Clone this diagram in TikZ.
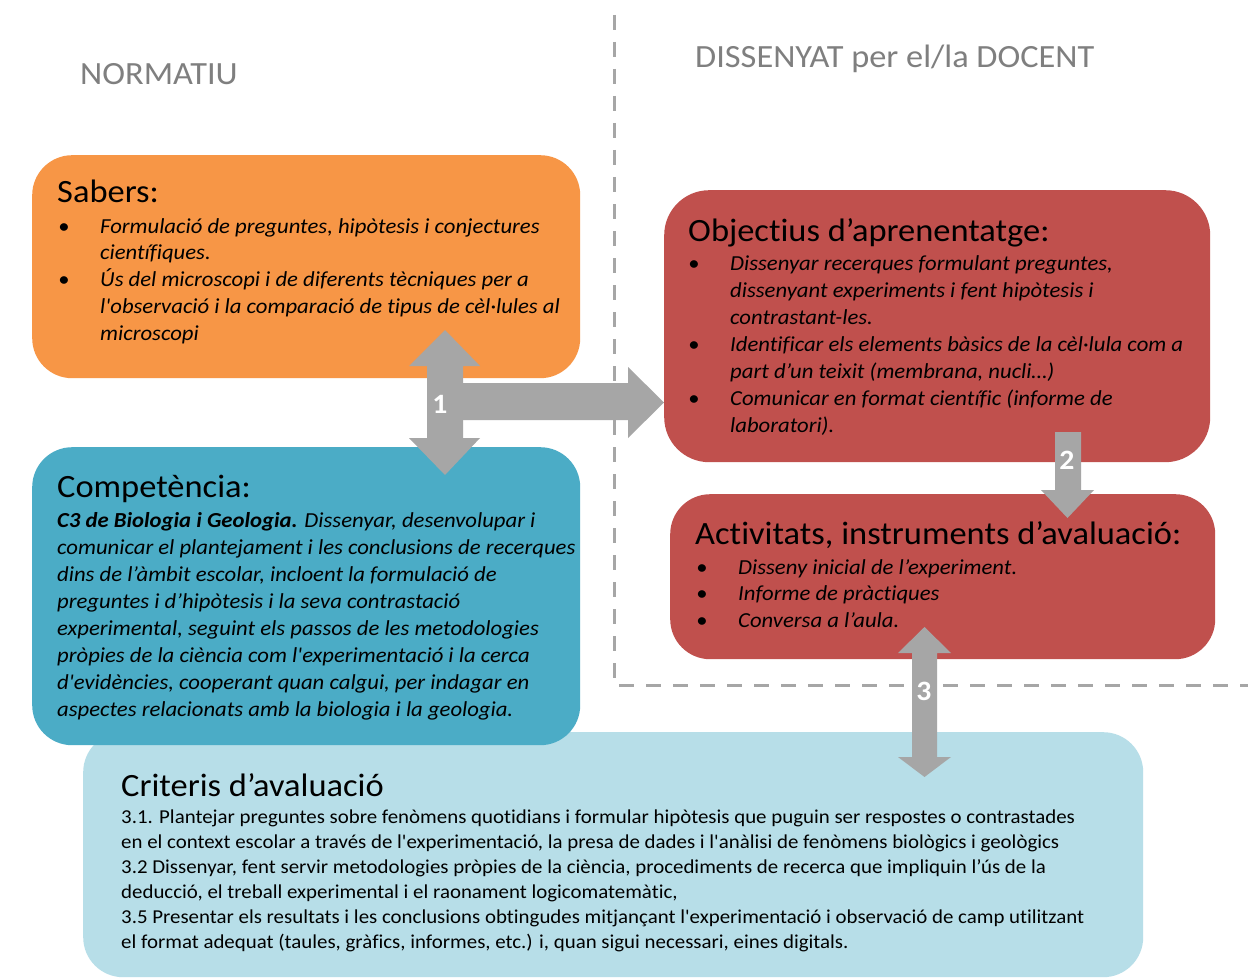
\documentclass[tikz,border=0pt]{standalone}
\usepackage{fontspec}
\setmainfont{Carlito}[FakeStretch=1.06, Ligatures={TeXOff, CommonOff}]
\definecolor{orangebox}{HTML}{F79646}
\definecolor{redbox}{HTML}{C0504D}
\definecolor{bluebox}{HTML}{4BACC6}
\definecolor{lightbox}{HTML}{B7DEE8}
\definecolor{arrowgray}{HTML}{A6A6A6}
\definecolor{headgray}{HTML}{7F7F7F}
\newcommand\bul{\makebox[42pt][l]{•}}
\newcommand\ind{\hspace*{42pt}}
\newcommand\textlines[1]{\begin{tabular}[t]{@{}l@{}}#1\end{tabular}}
\begin{document}
\begin{tikzpicture}[x=1pt,y=-1pt,
  box/.style={rectangle, rounded corners=40pt, inner sep=0pt, anchor=north west, draw=none},
  heading/.style={anchor=base west, inner sep=0pt, text=headgray, font=\fontsize{32.4}{36}\selectfont},
  title/.style={anchor=base west, inner sep=0pt, text=black, font=\fontsize{32.5}{38}\selectfont},
  body/.style={anchor=base west, inner sep=0pt, text=black, font=\fontsize{21.4}{27}\selectfont\itshape},
  crit/.style={anchor=base west, inner sep=0pt, text=black, font=\fontsize{19.7}{25}\selectfont},
  blockarrow/.style={fill=arrowgray, draw=none},
  num/.style={text=white, inner sep=0pt, font=\fontsize{28}{30}\selectfont\bfseries},
  divider/.style={draw=arrowgray, line width=3pt, dash pattern=on 15pt off 12pt}]
\useasboundingbox (0,0) rectangle (1248,979);
\fill[white] (0,0) rectangle (1248,979);

% dividers
\coordinate (dtop) at (614,15);
\coordinate (dcorner) at (614,685);
\coordinate (dright) at (1248,685);
\draw[divider] (dtop) -- (dcorner) -- (dright);

% headings
\node[heading] (norm) at (80,85) {NORMATIU};
\node[heading] (dis) at (695,68) {DISSENYAT per el/la DOCENT};

% boxes
\node[box, fill=lightbox, minimum width=1060pt, minimum height=245pt] (crit) at (83,732) {};
\node[box, fill=orangebox, minimum width=548pt, minimum height=223pt] (sab) at (32,155) {};
\node[box, fill=bluebox, minimum width=548pt, minimum height=298pt] (comp) at (32,447) {};
\node[box, fill=redbox, minimum width=546pt, minimum height=272pt, rounded corners=45pt] (obj) at (664,190) {};
\node[box, fill=redbox, minimum width=545pt, minimum height=165pt] (act) at (670,494) {};

% Sabers
\node[title] (sabT) at (57,203) {Sabers:};
\node[body] (sabB) at (58,233) {\textlines{\bul Formulació de preguntes, hipòtesis i conjectures\\
\ind científiques.\\
\bul Ús del microscopi i de diferents tècniques per a\\
\ind l'observació i la comparació de tipus de cèl·lules al\\
\ind microscopi}};

% Competencia
\node[title] (compT) at (57,497) {Competència:};
\node[body] (compB) at (57,527) {\textlines{\textbf{C3 de Biologia i Geologia.} Dissenyar, desenvolupar i\\
comunicar el plantejament i les conclusions de recerques\\
dins de l’àmbit escolar, incloent la formulació de\\
preguntes i d’hipòtesis i la seva contrastació\\
experimental, seguint els passos de les metodologies\\
pròpies de la ciència com l'experimentació i la cerca\\
d'evidències, cooperant quan calgui, per indagar en\\
aspectes relacionats amb la biologia i la geologia.}};

% Objectius
\node[title] (objT) at (688,241) {Objectius d’aprenentatge:};
\node[body] (objB) at (688,270) {\textlines{\bul Dissenyar recerques formulant preguntes,\\
\ind dissenyant experiments i fent hipòtesis i\\
\ind contrastant-les.\\
\bul Identificar els elements bàsics de la cèl·lula com a\\
\ind part d’un teixit (membrana, nucli…)\\
\bul Comunicar en format científic (informe de\\
\ind laboratori).}};

% Activitats
\node[title] (actT) at (695,544) {Activitats, instruments d’avaluació:};
\node[body, font=\fontsize{21.4}{26.5}\selectfont\itshape] (actB) at (696,574) {\textlines{\bul Disseny inicial de l’experiment.\\
\bul Informe de pràctiques\\
\bul Conversa a l’aula.}};

% Criteris
\node[title] (critT) at (121,796) {Criteris d’avaluació};
\node[crit] (critB) at (121,823) {\textlines{3.1. Plantejar preguntes sobre fenòmens quotidians i formular hipòtesis que puguin ser respostes o contrastades\\
en el context escolar a través de l'experimentació, la presa de dades i l'anàlisi de fenòmens biològics i geològics\\
3.2 Dissenyar, fent servir metodologies pròpies de la ciència, procediments de recerca que impliquin l’ús de la\\
deducció, el treball experimental i el raonament logicomatemàtic,\\
3.5 Presentar els resultats i les conclusions obtingudes mitjançant l'experimentació i observació de camp utilitzant\\
el format adequat (taules, gràfics, informes, etc.) i, quan sigui necessari, eines digitals.}};

% arrow 1
\fill[blockarrow] (445,330) -- (480,366) -- (463,366) -- (463,438) -- (480,438) -- (445,475)
  -- (409,438) -- (427,438) -- (427,366) -- (409,366) -- cycle;
\fill[blockarrow] (450,383) -- (628,383) -- (628,367) -- (obj.west |- 0,402.5) -- (628,438) -- (628,420) -- (450,420) -- cycle;
\node[num] (n1) at (440,404) {1};

% arrow 2
\fill[blockarrow] (1055,432) -- (1081,432) -- (1081,490) -- (1094,490) -- (1067.5,518) -- (1041,490) -- (1055,490) -- cycle;
\node[num] (n2) at (1067,460) {2};

% arrow 3
\fill[blockarrow] (924.5,627) -- (951,653) -- (937,653) -- (937,757) -- (951,757) -- (924.5,777)
  -- (898,757) -- (912,757) -- (912,653) -- (898,653) -- cycle;
\node[num] (n3) at (924,691) {3};
\end{tikzpicture}
\end{document}
